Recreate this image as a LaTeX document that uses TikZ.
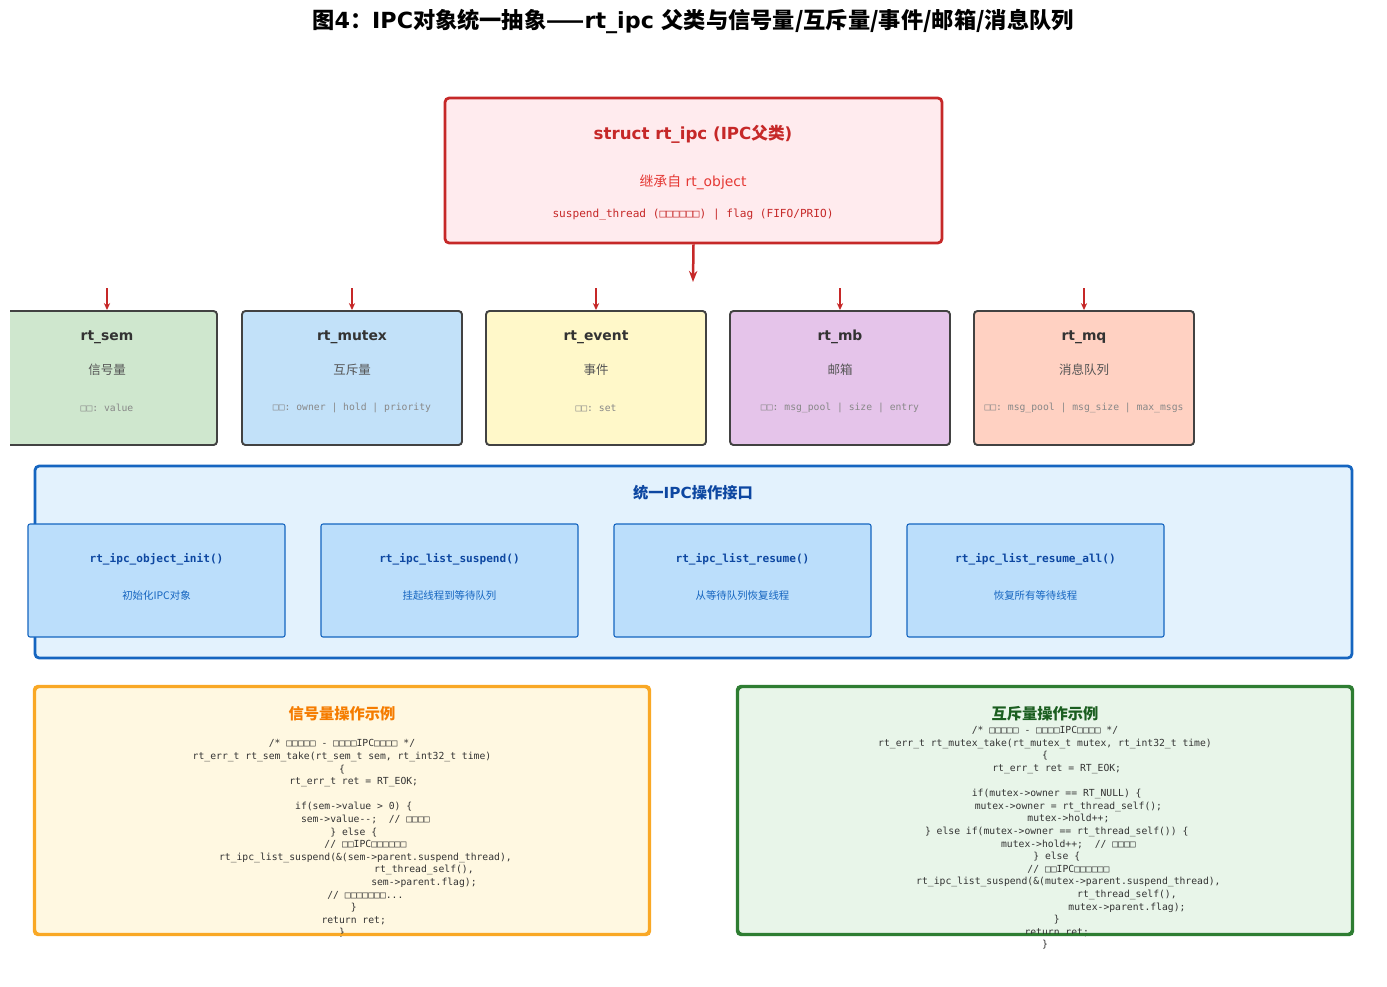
\documentclass[tikz,border=0pt]{standalone}
\usepackage{fontspec}
\setmainfont{DejaVu Sans}
\setmonofont{DejaVu Sans Mono}
\newfontfamily\cjk{Noto Sans CJK SC}
\usetikzlibrary{arrows.meta,fit}

\definecolor{ipcred}{HTML}{C62828}
\definecolor{ipclight}{HTML}{E53935}
\definecolor{ipcfill}{HTML}{FFEBEE}
\definecolor{semfill}{HTML}{CFE7CE}
\definecolor{mutexfill}{HTML}{C2E1F9}
\definecolor{eventfill}{HTML}{FFF8C9}
\definecolor{mbfill}{HTML}{E5C4EA}
\definecolor{mqfill}{HTML}{FFD1C2}
\definecolor{kidline}{HTML}{424242}
\definecolor{kidtitle}{HTML}{333333}
\definecolor{kidzh}{HTML}{555555}
\definecolor{kidfield}{HTML}{888888}
\definecolor{ifline}{HTML}{1565C0}
\definecolor{iftitle}{HTML}{0D47A1}
\definecolor{iffill}{HTML}{E3F2FD}
\definecolor{ifsub}{HTML}{BBDEFB}
\definecolor{semcodefill}{HTML}{FFF8E1}
\definecolor{semcodeline}{HTML}{F9A825}
\definecolor{semcodetitle}{HTML}{F57C00}
\definecolor{mutexcodefill}{HTML}{E8F5E9}
\definecolor{mutexcodeline}{HTML}{2E7D32}
\definecolor{mutexcodetitle}{HTML}{1B5E20}
\definecolor{codegray}{HTML}{333333}

% indent by n characters of the current mono font
\newcommand\pad[1]{\hspace*{#1\fontcharwd\font`0}}

\tikzset{
  ipcbox/.style={draw=ipcred, fill=ipcfill, line width=2pt, rounded corners=3pt, inner sep=0pt},
  kidbox/.style={draw=kidline, line width=1.4pt, rounded corners=2.5pt, inner sep=0pt},
  kidtitle/.style={text=kidtitle, font=\bfseries\fontsize{10}{12}\selectfont},
  kidzh/.style={text=kidzh, font=\cjk\fontsize{9}{11}\selectfont},
  kidfield/.style={text=kidfield, font=\ttfamily\fontsize{7}{9}\selectfont},
  ifbox/.style={draw=ifline, fill=iffill, line width=2pt, rounded corners=3pt, inner sep=0pt},
  ifsubbox/.style={draw=ifline, fill=ifsub, line width=0.8pt, rounded corners=1.5pt, inner sep=0pt},
  iffunc/.style={text=iftitle, font=\ttfamily\bfseries\fontsize{8}{10}\selectfont},
  ifzh/.style={text=ifline, font=\cjk\fontsize{7.5}{9}\selectfont},
  codebox/.style={line width=1.6pt, rounded corners=3pt, inner sep=0pt},
  codetext/.style={text=codegray, align=center, inner sep=0pt, font=\ttfamily\fontsize{7}{9.07}\selectfont},
  bigarrow/.style={draw=ipcred, line width=1.8pt, -{Stealth[length=8pt,width=6pt]}},
  kidarrow/.style={draw=ipcred, line width=1.2pt, -{Stealth[length=5pt,width=4.5pt]}}
}

\begin{document}
\begin{tikzpicture}[x=0.72pt, y=-0.72pt]
\path[fill=white] (0,0) rectangle (1387,986);
\useasboundingbox (0,0) rectangle (1387,986);

\node[font=\bfseries\fontsize{16}{19}\selectfont] (title) at (693,21)
  {{\cjk 图}4{\cjk ：}IPC{\cjk 对象统一抽象——}rt\_ipc {\cjk 父类与信号量/互斥量/事件/邮箱/消息队列}};

% parent class
\node[ipcbox, fit={(445,98) (942,243)}] (ipc) {};
\node[text=ipcred, font=\bfseries\fontsize{12}{14}\selectfont] (ipctitle) at (693,134) {struct rt\_ipc (IPC{\cjk 父类})};
\node[text=ipclight, font=\fontsize{10}{12}\selectfont] (ipcbase) at (693,182) {{\cjk 继承自} rt\_object};
\node[text=ipcred, font=\ttfamily\fontsize{8}{10}\selectfont] (ipcfields) at (693,215) {suspend\_thread (□□□□□□) | flag (FIFO/PRIO)};
\coordinate (split) at (693,282);
\draw[bigarrow] (ipc.south) -- (split);

% derived objects
\begin{scope}
\clip (10,0) rectangle (1387,986);
\node[kidbox, fill=semfill, fit={(-3,311) (217,445)}] (sem) {};
\end{scope}
\node[kidbox, fill=mutexfill, fit={(242,311) (462,445)}] (mutex) {};
\node[kidbox, fill=eventfill, fit={(486,311) (706,445)}] (event) {};
\node[kidbox, fill=mbfill, fit={(730,311) (950,445)}] (mb) {};
\node[kidbox, fill=mqfill, fit={(974,311) (1194,445)}] (mq) {};

\node[kidtitle] (semtitle) at (107,337) {rt\_sem};
\node[kidzh] (semzh) at (107,370) {信号量};
\node[kidfield] (semfield) at (107,408) {□□: value};
\node[kidtitle] (mutextitle) at (352,337) {rt\_mutex};
\node[kidzh] (mutexzh) at (352,370) {互斥量};
\node[kidfield] (mutexfield) at (352,408) {□□: owner | hold | priority};
\node[kidtitle] (eventtitle) at (596,337) {rt\_event};
\node[kidzh] (eventzh) at (596,370) {事件};
\node[kidfield] (eventfield) at (596,408) {□□: set};
\node[kidtitle] (mbtitle) at (840,337) {rt\_mb};
\node[kidzh] (mbzh) at (840,370) {邮箱};
\node[kidfield] (mbfield) at (840,408) {□□: msg\_pool | size | entry};
\node[kidtitle] (mqtitle) at (1084,337) {rt\_mq};
\node[kidzh] (mqzh) at (1084,370) {消息队列};
\node[kidfield] (mqfield) at (1084,408) {□□: msg\_pool | msg\_size | max\_msgs};

\coordinate (semin) at (107,288);
\coordinate (mutexin) at (352,288);
\coordinate (eventin) at (596,288);
\coordinate (mbin) at (840,288);
\coordinate (mqin) at (1084,288);
\draw[kidarrow] (semin) -- (sem.north);
\draw[kidarrow] (mutexin) -- (mutex.north);
\draw[kidarrow] (eventin) -- (event.north);
\draw[kidarrow] (mbin) -- (mb.north);
\draw[kidarrow] (mqin) -- (mq.north);

% common interface
\node[ifbox, fit={(35,466) (1352,658)}] (iface) {};
\node[text=iftitle, font=\bfseries\fontsize{11}{13}\selectfont] (ifacetitle) at (693,493) {{\cjk 统一}IPC{\cjk 操作接口}};
\node[ifsubbox, fit={(28,524) (285,637)}] (init) {};
\node[ifsubbox, fit={(321,524) (578,637)}] (suspend) {};
\node[ifsubbox, fit={(614,524) (871,637)}] (resume) {};
\node[ifsubbox, fit={(907,524) (1164,637)}] (resumeall) {};
\node[iffunc] (initfunc) at (156.5,559) {rt\_ipc\_object\_init()};
\node[ifzh] (initzh) at (156.5,596) {初始化IPC对象};
\node[iffunc] (suspendfunc) at (449.5,559) {rt\_ipc\_list\_suspend()};
\node[ifzh] (suspendzh) at (449.5,596) {挂起线程到等待队列};
\node[iffunc] (resumefunc) at (742.5,559) {rt\_ipc\_list\_resume()};
\node[ifzh] (resumezh) at (742.5,596) {从等待队列恢复线程};
\node[iffunc] (resumeallfunc) at (1035.5,559) {rt\_ipc\_list\_resume\_all()};
\node[ifzh] (resumeallzh) at (1035.5,596) {恢复所有等待线程};

% code examples
\node[codebox, draw=semcodeline, fill=semcodefill, fit={(35,687) (649,934)}] (semcode) {};
\node[text=semcodetitle, font=\cjk\bfseries\fontsize{11}{13}\selectfont] (semcodetitle) at (342,714) {信号量操作示例};
\node[codetext] (semcodetext) at (342,838.5) {%
/* □□□□□ - □□□□IPC□□□□ */\\
rt\_err\_t rt\_sem\_take(rt\_sem\_t sem, rt\_int32\_t time)\\
\{\\
\pad{4}rt\_err\_t ret = RT\_EOK;\\
\mbox{}\\
\pad{4}if(sem->value > 0) \{\\
\pad{8}sem->value--;~~// □□□□\\
\pad{4}\} else \{\\
\pad{8}// □□IPC□□□□□□\\
\pad{8}rt\_ipc\_list\_suspend(\&(sem->parent.suspend\_thread),\\
\pad{28}rt\_thread\_self(),\\
\pad{28}sem->parent.flag);\\
\pad{8}// □□□□□□□...\\
\pad{4}\}\\
\pad{4}return ret;\\
\}};
\draw[codebox, draw=semcodeline] (semcode.north west) rectangle (semcode.south east);

\node[codebox, draw=mutexcodeline, fill=mutexcodefill, fit={(738,687) (1352,934)}] (mutexcode) {};
\node[text=mutexcodetitle, font=\cjk\bfseries\fontsize{11}{13}\selectfont] (mutexcodetitle) at (1045,714) {互斥量操作示例};
\node[codetext] (mutexcodetext) at (1045,838) {%
/* □□□□□ - □□□□IPC□□□□ */\\
rt\_err\_t rt\_mutex\_take(rt\_mutex\_t mutex, rt\_int32\_t time)\\
\{\\
\pad{4}rt\_err\_t ret = RT\_EOK;\\
\mbox{}\\
\pad{4}if(mutex->owner == RT\_NULL) \{\\
\pad{8}mutex->owner = rt\_thread\_self();\\
\pad{8}mutex->hold++;\\
\pad{4}\} else if(mutex->owner == rt\_thread\_self()) \{\\
\pad{8}mutex->hold++;~~// □□□□\\
\pad{4}\} else \{\\
\pad{8}// □□IPC□□□□□□\\
\pad{8}rt\_ipc\_list\_suspend(\&(mutex->parent.suspend\_thread),\\
\pad{28}rt\_thread\_self(),\\
\pad{28}mutex->parent.flag);\\
\pad{4}\}\\
\pad{4}return ret;\\
\}};
\draw[codebox, draw=mutexcodeline] (mutexcode.north west) rectangle (mutexcode.south east);
\end{tikzpicture}
\end{document}
